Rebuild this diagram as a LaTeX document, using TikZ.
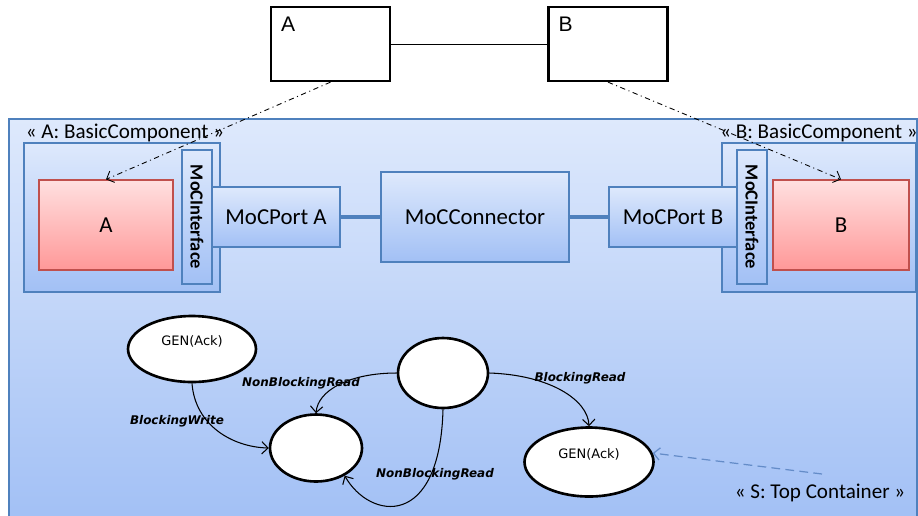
\documentclass[tikz,border=0pt]{standalone}
\usepackage{fontspec}
\setmainfont{Carlito}
\newfontfamily\statefont{DejaVu Sans}
\newfontfamily\umlfont{Liberation Sans}
\usetikzlibrary{shapes.geometric,arrows.meta}
\definecolor{frameblue}{RGB}{79,129,189}
\definecolor{paleblue}{RGB}{222,233,252}
\definecolor{deepblue}{RGB}{162,192,245}
\definecolor{palered}{RGB}{255,224,224}
\definecolor{deepred}{RGB}{255,152,152}
\definecolor{redline}{RGB}{192,80,77}
\definecolor{hintblue}{RGB}{100,140,200}

\begin{document}
\begin{tikzpicture}[x=0.02cm, y=-0.02cm, >={Straight Barb[length=3.5pt, width=7pt]},
  every node/.style={font=\fontsize{13}{15}\selectfont},
  umlbox/.style={rectangle, draw=black, line width=1.3pt, fill=white, minimum width=2.38cm, minimum height=1.48cm},
  bluebox/.style={rectangle, draw=frameblue, line width=0.7pt, top color=paleblue, bottom color=deepblue, inner sep=0pt},
  redbox/.style={rectangle, draw=redline, line width=0.7pt, top color=palered, bottom color=deepred, minimum height=1.8cm},
  ifbox/.style={bluebox, rotate=-90, minimum width=2.68cm, minimum height=0.6cm, font=\bfseries\fontsize{10.5}{12}\selectfont},
  statenode/.style={ellipse, draw=black, line width=1.5pt, fill=white, inner sep=0pt},
  statelabel/.style={font=\statefont\fontsize{7.4}{9}\selectfont, yshift=0.15cm},
  translabel/.style={font=\statefont\bfseries\itshape\fontsize{6.8}{8}\selectfont, inner sep=0pt},
  stereo/.style={font=\fontsize{12}{14}\selectfont, inner sep=0pt},
  realize/.style={draw=black, line width=0.5pt, dash pattern=on 3pt off 2pt on 0.6pt off 2pt, ->},
  move/.style={draw=black, line width=0.6pt, ->},
  wire/.style={draw=frameblue, line width=2.2pt}]
			\useasboundingbox (0,0) rectangle (918,515);
			
			% upper class level
			\node[umlbox, label={[anchor=north west, inner sep=0pt, xshift=0.22cm, yshift=-0.22cm, font=\umlfont\fontsize{12}{14}\selectfont]north west:A}] (clsA) at (330.5,44){};
			\node[umlbox, label={[anchor=north west, inner sep=0pt, xshift=0.22cm, yshift=-0.22cm, font=\umlfont\fontsize{12}{14}\selectfont]north west:B}] (clsB) at (608,44){};
			\path[draw=black, thin] (clsA) -- (clsB);
			
			% top container
			\node[bluebox, minimum width=18.16cm, minimum height=8.02cm] (sys) at (463,319.5){};
			\node[stereo] (sysname) at (820,493){« S: Top Container »};
			
			% components
			\node[bluebox, minimum width=3.92cm, minimum height=2.98cm] (compA) at (122,217.5){};
			\node[bluebox, minimum width=3.88cm, minimum height=2.98cm] (compB) at (819,217.5){};
			\node[stereo] (nameA) at (125,133){« A: BasicComponent »};
			\node[stereo] (nameB) at (819,133){« B: BasicComponent »};
			\node[redbox, minimum width=2.68cm] (implA) at (106,225){A};
			\node[redbox, minimum width=2.72cm] (implB) at (841,225){B};
			
			\node[bluebox, minimum width=2.56cm, minimum height=1.2cm] (portA) at (276,217){MoCPort A};
			\node[bluebox, minimum width=2.56cm, minimum height=1.2cm] (portB) at (673,217){MoCPort B};
			\node[ifbox] (ifA) at (197,217){MoCInterface};
			\node[ifbox] (ifB) at (752,217){MoCInterface};
			\node[bluebox, minimum width=3.76cm, minimum height=1.8cm] (conn) at (475,217){MoCConnector};
			
			\path[wire] (portA) -- (conn);
			\path[wire] (conn) -- (portB);
			
			\path[realize] (clsA.south) -- (implA.north);
			\path[realize] (clsB.south) -- (implB.north);
			
			% behaviour
			\node[statenode, minimum width=2.56cm, minimum height=1.32cm, label={[statelabel]center:GEN(Ack)}] (gen1) at (192,349){};
			\node[statenode, minimum width=1.84cm, minimum height=1.34cm] (wait) at (316,448){};
			\node[statenode, minimum width=1.8cm, minimum height=1.4cm] (idle) at (443,373){};
			\node[statenode, minimum width=2.58cm, minimum height=1.38cm, label={[statelabel]center:GEN(Ack)}] (gen2) at (589,462){};
			
			\path[move] (gen1.south) .. controls (195,425) and (232,447) .. (wait.west);
			\path[move] (idle.west) .. controls (350,373) and (318,390) .. (wait.north);
			\path[move] (idle.south) .. controls (440,530) and (370,520) .. (wait.-44);
			\path[move] (idle.east) .. controls (550,375) and (588,400) .. (gen2.north);
			
			\node[translabel] (t1) at (177,421){BlockingWrite};
			\node[translabel] (t2) at (301,383){NonBlockingRead};
			\node[translabel] (t3) at (435,474){NonBlockingRead};
			\node[translabel] (t4) at (580,378){BlockingRead};
			
			\coordinate (hint) at (822,474);
			\path[draw=hintblue, line width=0.7pt, dash pattern=on 5pt off 3pt, ->] (hint) -- (gen2.8);
			\end{tikzpicture}
\end{document}
